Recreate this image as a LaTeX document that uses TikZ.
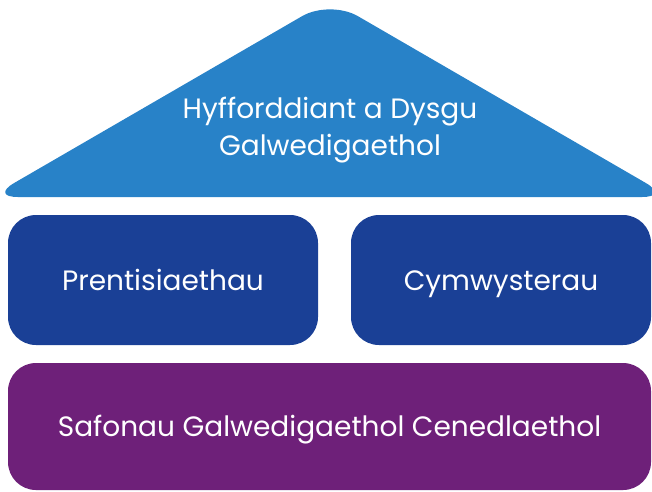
\documentclass[tikz,border=0pt]{standalone}
\usepackage{fontspec}
\setmainfont{Poppins}
\usepackage{tikz}

\begin{document}
\begin{tikzpicture}[x=1pt,y=-1pt,
    box/.style={rounded corners=28pt, inner sep=0pt, text=white,
      text height=20pt, text depth=0pt,
      font=\fontsize{28}{32}\selectfont}]
  % colours
  \definecolor{roofblue}{RGB}{40,130,200}
  \definecolor{pillarblue}{RGB}{26,64,150}
  \definecolor{basepurple}{RGB}{110,32,121}
  \useasboundingbox (0,0) rectangle (652,491);
  % roof
  \fill[roofblue] (330,197) [rounded corners=28pt] -- (-10,197)
    [rounded corners=32pt] -- (330,0) [rounded corners=28pt] -- (670,197) -- cycle;
  \node[text=white, align=center, font=\fontsize{28}{37}\selectfont] (roof)
    at (330,130) {Hyfforddiant a Dysgu\\Galwedigaethol};
  % pillars
  \node[box, fill=pillarblue, minimum width=310pt, minimum height=130pt]
    (prent) at (163,280) {Prentisiaethau};
  \node[box, fill=pillarblue, minimum width=300pt, minimum height=130pt]
    (cymw) at (501,280) {Cymwysterau};
  % base
  \node[box, fill=basepurple, minimum width=643pt, minimum height=127pt]
    (safon) at (329.5,426.5) {Safonau Galwedigaethol Cenedlaethol};
\end{tikzpicture}
\end{document}
